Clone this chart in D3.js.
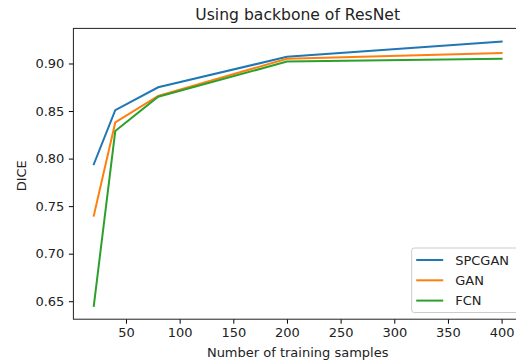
<!DOCTYPE html>
<html>
<head>
<meta charset="utf-8">
<script src="https://cdn.jsdelivr.net/npm/d3@7"></script>
<style>
  body { margin: 0; background: #fff; }
  svg { font-family: "DejaVu Sans", sans-serif; }
</style>
</head>
<body>
<script>
// training set sizes and DICE per model
const samples = [20, 40, 80, 200, 400];
const spcgan = [0.794, 0.851, 0.875, 0.907, 0.923];
const gan = [0.740, 0.838, 0.866, 0.905, 0.911];
const fcn = [0.645, 0.829, 0.865, 0.902, 0.905];
const xTicks = [50, 100, 150, 200, 250, 300, 350, 400];
const yTicks = [0.65, 0.70, 0.75, 0.80, 0.85, 0.90];

const series = [
  { name: "SPCGAN", values: spcgan, color: "#1f77b4" },
  { name: "GAN", values: gan, color: "#ff7f0e" },
  { name: "FCN", values: fcn, color: "#2ca02c" }
];

const width = 516, height = 362;
const plotLeft = 73.4, plotRight = 522, plotTop = 28.4, plotBottom = 319.2;
const fs = 13;

const svg = d3.select("body").append("svg")
  .attr("width", width)
  .attr("height", height);

// matplotlib-like 5% margins
const xPad = (d3.max(samples) - d3.min(samples)) * 0.05;
const x = d3.scaleLinear()
  .domain([d3.min(samples) - xPad, d3.max(samples) + xPad])
  .range([plotLeft, plotRight]);

const allY = spcgan.concat(gan, fcn);
const yPad = (d3.max(allY) - d3.min(allY)) * 0.05;
const y = d3.scaleLinear()
  .domain([d3.min(allY) - yPad, d3.max(allY) + yPad])
  .range([plotBottom, plotTop]);

const line = d3.line()
  .x((d, i) => x(samples[i]))
  .y(d => y(d));

const g = svg.append("g");

series.forEach(s => {
  g.append("path")
    .datum(s.values)
    .attr("d", line)
    .attr("fill", "none")
    .attr("stroke", s.color)
    .attr("stroke-width", 2)
    .attr("stroke-linecap", "square");
});

// axes
const xAxis = svg.append("g")
  .attr("transform", `translate(0,${plotBottom})`)
  .call(d3.axisBottom(x).tickValues(xTicks).tickSize(4.5).tickPadding(4).tickFormat(d3.format("d")));
const yAxis = svg.append("g")
  .attr("transform", `translate(${plotLeft},0)`)
  .call(d3.axisLeft(y).tickValues(yTicks).tickSize(4.5).tickPadding(4.5).tickFormat(d3.format(".2f")));

[xAxis, yAxis].forEach(a => {
  a.select(".domain").remove();
  a.selectAll("line").attr("stroke", "#000").attr("stroke-width", 1);
  a.selectAll("text").attr("font-size", fs).attr("fill", "#222")
    .attr("font-family", "DejaVu Sans, sans-serif");
});

// spines
svg.append("rect")
  .attr("x", plotLeft).attr("y", plotTop)
  .attr("width", plotRight - plotLeft).attr("height", plotBottom - plotTop)
  .attr("fill", "none").attr("stroke", "#222").attr("stroke-width", 1);

// title and labels
svg.append("text")
  .attr("x", (plotLeft + plotRight) / 2).attr("y", 20)
  .attr("text-anchor", "middle").attr("font-size", 15.6).attr("fill", "#222")
  .text("Using backbone of ResNet");

svg.append("text")
  .attr("x", (plotLeft + plotRight) / 2).attr("y", 356.5)
  .attr("text-anchor", "middle").attr("font-size", fs).attr("fill", "#222")
  .text("Number of training samples");

svg.append("text")
  .attr("transform", `translate(26,${(plotTop + plotBottom) / 2 + 2}) rotate(-90)`)
  .attr("text-anchor", "middle").attr("font-size", fs).attr("fill", "#222")
  .text("DICE");

// legend
const lg = svg.append("g").attr("transform", "translate(411.7,248)");
lg.append("rect")
  .attr("width", 108).attr("height", 64.5).attr("rx", 2.5)
  .attr("fill", "#fff").attr("fill-opacity", 0.8)
  .attr("stroke", "#cccccc").attr("stroke-width", 1);

series.forEach((s, i) => {
  const ry = 12 + i * 20.3;
  lg.append("line")
    .attr("x1", 4.5).attr("x2", 31.5)
    .attr("y1", ry).attr("y2", ry)
    .attr("stroke", s.color).attr("stroke-width", 2);
  lg.append("text")
    .attr("x", 43.5).attr("y", ry + 4.7)
    .attr("font-size", fs).attr("fill", "#222")
    .text(s.name);
});
</script>
</body>
</html>
